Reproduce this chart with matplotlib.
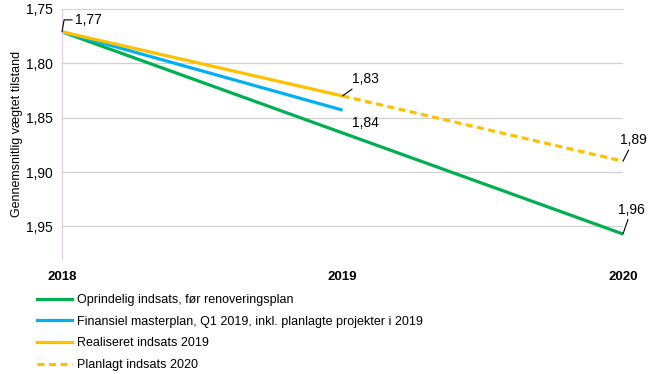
import matplotlib.pyplot as plt
from matplotlib.lines import Line2D

plt.rcParams['font.family'] = ['Liberation Sans', 'DejaVu Sans']
narrow = ['Liberation Sans Narrow', 'Liberation Sans', 'DejaVu Sans']

years = [2018, 2019, 2020]
oprindelig = [1.771, 1.864, 1.957]
finansiel = [1.771, 1.843]
realiseret = [1.771, 1.830]
planlagt = [1.830, 1.890]

labels = ['Oprindelig indsats, før renoveringsplan',
          'Finansiel masterplan, Q1 2019, inkl. planlagte projekter i 2019',
          'Realiseret indsats 2019',
          'Planlagt indsats 2020']

green = '#00B050'
blue = '#00B0F0'
orange = '#FFC000'

fig = plt.figure(figsize=(6.48, 3.74), dpi=100)
ax = fig.add_axes([62/648, 1-259/374, (623-62)/648, (259-9)/374])

ax.plot(years, oprindelig, color=green, lw=2.3, solid_capstyle='butt')
ax.plot(years[:2], finansiel, color=blue, lw=2.3, solid_capstyle='butt')
ax.plot(years[:2], realiseret, color=orange, lw=2.3, solid_capstyle='butt')
ax.plot(years[1:], planlagt, color=orange, lw=2.3, dashes=(2.2, 1.4))

ax.set_xlim(2018, 2020)
ax.set_ylim(1.98, 1.75)
ax.set_yticks([1.75, 1.80, 1.85, 1.90, 1.95])
ax.set_yticklabels(['1,75', '1,80', '1,85', '1,90', '1,95'], fontsize=10)
ax.set_xticks(years)
ax.set_xticklabels([str(y) for y in years], fontsize=9.5, fontweight='bold')
ax.tick_params(length=0, pad=6.5)
ax.tick_params(axis='x', pad=9)
for y in [1.80, 1.85, 1.90, 1.95]:
    ax.axhline(y, color='#D0D0D0', lw=0.9, zorder=0)

for s in ['right', 'bottom']:
    ax.spines[s].set_visible(False)
for s in ['top', 'left']:
    ax.spines[s].set_color('#DCC8E6')
    ax.spines[s].set_linestyle((0, (1.2, 1.2)))
    ax.spines[s].set_linewidth(0.8)

ax.set_ylabel('Gennemsnitlig vægtet tilstand', fontsize=9, family=narrow, labelpad=2)

def fmt(v):
    return ('%.2f' % v).replace('.', ',')

lead = dict(arrowstyle='-', color='black', lw=0.8, shrinkA=0, shrinkB=0)
ax.annotate(fmt(oprindelig[0]), xy=(2018, oprindelig[0]), xytext=(9.4, 8.6),
            textcoords='offset points', fontsize=10, va='center',
            arrowprops=dict(lead, connectionstyle='angle,angleA=0,angleB=80,rad=0'))
ax.annotate(fmt(realiseret[1]), xy=(2019, realiseret[1]), xytext=(7, 12),
            textcoords='offset points', fontsize=10, va='center',
            arrowprops=lead)
ax.annotate(fmt(finansiel[1]), xy=(2019, finansiel[1]), xytext=(7, -9.6),
            textcoords='offset points', fontsize=10, va='center')
ax.annotate(fmt(planlagt[1]), xy=(2020, planlagt[1]), xytext=(7.5, 15),
            textcoords='offset points', fontsize=10, va='center', ha='center',
            arrowprops=lead)
ax.annotate(fmt(oprindelig[2]), xy=(2020, oprindelig[2]), xytext=(6, 17.5),
            textcoords='offset points', fontsize=10, va='center', ha='center',
            arrowprops=lead)

handles = [Line2D([], [], color=green, lw=2.3),
           Line2D([], [], color=blue, lw=2.3),
           Line2D([], [], color=orange, lw=2.3),
           Line2D([], [], color=orange, lw=2.3, dashes=(2.2, 1.4))]
fig.legend(handles, labels, loc='upper left', bbox_to_anchor=(32/648, 1-289/374),
           frameon=False, prop={'family': narrow, 'size': 9}, handlelength=2.8,
           handletextpad=0.4, labelspacing=0.78, borderaxespad=0)

fig.savefig('out.png', dpi=100)
